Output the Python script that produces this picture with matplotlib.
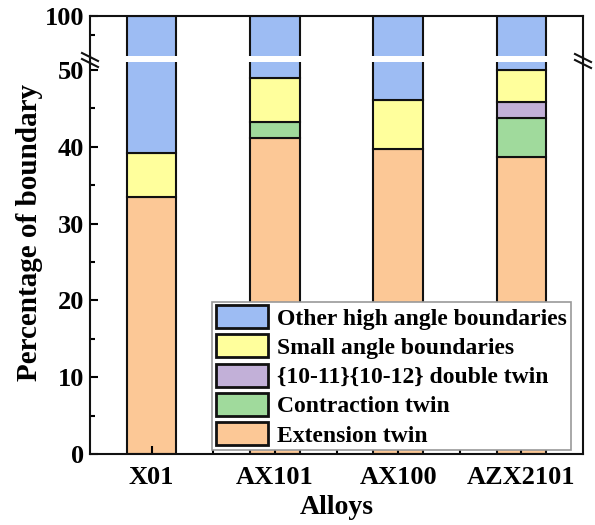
import matplotlib
matplotlib.use('Agg')
import matplotlib.pyplot as plt
from matplotlib.lines import Line2D
import numpy as np

# data (percent)
alloys = ['X01', 'AX101', 'AX100', 'AZX2101']
extension_twin = [33.5, 41.1, 39.7, 38.7]
contraction_twin = [0.0, 2.1, 0.0, 5.0]
double_twin = [0.0, 0.0, 0.0, 2.1]
small_angle = [5.7, 5.7, 6.4, 4.2]
series_names = ['Extension twin', 'Contraction twin', '{10-11}{10-12} double twin',
                'Small angle boundaries', 'Other high angle boundaries']
colors = ['#FCC896', '#A0DA9C', '#C2B0D8', '#FFFF9C', '#9DBCF3']

plt.rcParams['font.family'] = ['Liberation Serif', 'DejaVu Serif']
plt.rcParams['font.weight'] = 'bold'
plt.rcParams['axes.labelweight'] = 'bold'

W, H = 595, 525
fig = plt.figure(figsize=(W / 100, H / 100), dpi=100)

left, right = 90 / W, 583 / W
ax = fig.add_axes([left, (H - 454) / H, right - left, (454 - 62) / H])
ax_top = fig.add_axes([left, (H - 56) / H, right - left, (56 - 15.7) / H])

x = np.arange(len(alloys))
stack = [extension_twin, contraction_twin, double_twin, small_angle]
other = [100 - sum(v) for v in zip(*stack)]
stack.append(other)

handles = []
for a in (ax, ax_top):
    bottom = np.zeros(len(alloys))
    for vals, name, c in zip(stack, series_names, colors):
        vals = np.array(vals)
        mask = vals > 0
        b = a.bar(x[mask], vals[mask], 0.4, bottom=bottom[mask], color=c,
                  edgecolor='#111111', linewidth=1.5, label=name)
        if a is ax:
            handles.append(b)
        bottom += vals

ax.set_ylim(0, 51.04)
ax_top.set_ylim(94.75, 100)
for a in (ax, ax_top):
    a.set_xlim(-0.5, 3.5)
    for s in a.spines.values():
        s.set_linewidth(1.5)
        s.set_color('#111111')

ax.spines['top'].set_visible(False)
ax_top.spines['bottom'].set_visible(False)

ax.set_yticks([0, 10, 20, 30, 40, 50])
ax.set_yticks([5, 15, 25, 35, 45], minor=True)
ax.set_xticks(x)
ax.set_xticklabels(alloys)
ax.set_xticks([0.5, 1.5, 2.5], minor=True)
ax.tick_params(which='major', direction='in', length=6, width=1.5, labelsize=19,
               top=False, right=False)
ax.tick_params(which='minor', direction='in', length=3.5, width=1.5,
               top=False, right=False)
ax.tick_params(axis='x', which='major', pad=9)
ax.tick_params(axis='y', which='major', pad=4)

ax_top.set_yticks([100])
ax_top.set_yticks([97.5], minor=True)
ax_top.set_xticks([])
ax_top.tick_params(which='major', direction='in', length=6, width=1.5, labelsize=19,
                   right=False, pad=4)
ax_top.tick_params(which='minor', direction='in', length=3.5, width=1.5, right=False)

ax.set_xlabel('Alloys', fontsize=20, labelpad=4)
ax.set_ylabel('Percentage of boundary', fontsize=21)
ax.yaxis.set_label_coords(-0.095, 0.566)

# continuous spines through the break gap, plus break marks
for xs in (90, 583):
    fig.add_artist(Line2D([xs / W, xs / W], [(H - 62) / H, (H - 56) / H],
                          color='#111111', lw=1.5))
for xs, yc in ((90, 60), (583, 61)):
    for dy in (-3, 3):
        fig.add_artist(Line2D([(xs - 8) / W, (xs + 8) / W],
                              [(H - yc - dy + 4) / H, (H - yc - dy - 4) / H],
                              color='#111111', lw=1.5))

leg = ax.legend(handles[::-1], series_names[::-1], loc='lower right',
                bbox_to_anchor=(0.975, 0.01), fontsize=17, frameon=True,
                fancybox=False, edgecolor='#999999', framealpha=1,
                handlelength=2.2, handleheight=1.12, labelspacing=0.2,
                handletextpad=0.4, borderpad=0.15, borderaxespad=0)
leg.get_frame().set_linewidth(1.2)
for p in leg.get_patches():
    p.set_linewidth(2)

fig.savefig('out.png', dpi=100)
